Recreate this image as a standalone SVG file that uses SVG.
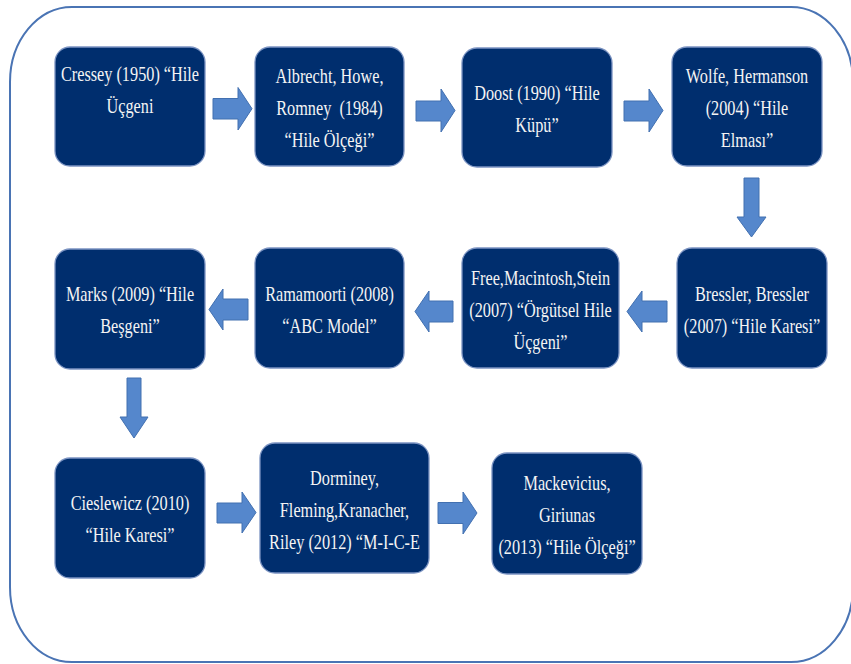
<svg xmlns="http://www.w3.org/2000/svg" width="851" height="664" viewBox="0 0 851 664">
<style>
.frame{fill:#fff;stroke:#4a74b4;stroke-width:2}
.box{fill:#002e6e;stroke:#7b93c2;stroke-width:1.3}
.t{font-family:"Liberation Serif","Times New Roman",serif;font-size:21px;fill:#f4f4f4;text-anchor:middle}
.arr{fill:#5587cc;stroke:#4270b0;stroke-width:1;stroke-linejoin:miter}
</style>
<rect width="851" height="664" fill="#fff"/>
<rect class="frame" x="10" y="7" width="843" height="655" rx="62" ry="75"/>

<g id="connectors">
<polygon class="arr" points="213,98.5 238,98.5 238,87.5 252,108.7 238,130 238,119 213,119"/>
<polygon class="arr" points="416,101 441,101 441,89 455,110.5 441,132 441,121 416,121"/>
<polygon class="arr" points="624,101 649,101 649,89 663,110.5 649,132 649,121 624,121"/>
<polygon class="arr" points="744,178 759,178 759,217 766,217 751.5,237 737,217 744,217"/>
<polygon class="arr" points="667,301 642,301 642,291 627,311.5 642,332 642,322 667,322"/>
<polygon class="arr" points="453,301 429,301 429,291 415,311.5 429,332 429,322 453,322"/>
<polygon class="arr" points="248,299 223,299 223,289 209,309.5 223,330 223,320 248,320"/>
<polygon class="arr" points="127,378 141,378 141,417 148,417 134,438 120,417 127,417"/>
<polygon class="arr" points="217,503 242,503 242,492 256,512.5 242,533 242,523 217,523"/>
<polygon class="arr" points="438,502.5 463,502.5 463,492 477,513 463,534 463,523.5 438,523.5"/>
</g>

<g id="cressey">
<rect class="box" x="55" y="47" width="150" height="119" rx="15"/>
<g transform="matrix(0.775 0 0 1 130 0)"><text class="t"><tspan x="0" y="81">Cressey (1950) “Hile</tspan><tspan x="0" y="113">Üçgeni</tspan></text></g>
</g>
<g id="albrecht">
<rect class="box" x="255" y="47" width="149" height="119" rx="15"/>
<g transform="matrix(0.775 0 0 1 329.5 0)"><text class="t" xml:space="preserve"><tspan x="0" y="83">Albrecht, Howe,</tspan><tspan x="0" y="115">Romney  (1984)</tspan><tspan x="0" y="147">“Hile Ölçeği”</tspan></text></g>
</g>
<g id="doost">
<rect class="box" x="462" y="48" width="150" height="119" rx="15"/>
<g transform="matrix(0.775 0 0 1 537 0)"><text class="t"><tspan x="0" y="100">Doost (1990) “Hile</tspan><tspan x="0" y="132">Küpü”</tspan></text></g>
</g>
<g id="wolfe">
<rect class="box" x="672" y="47" width="150" height="119" rx="15"/>
<g transform="matrix(0.775 0 0 1 747 0)"><text class="t"><tspan x="0" y="83">Wolfe, Hermanson</tspan><tspan x="0" y="115">(2004) “Hile</tspan><tspan x="0" y="147">Elması”</tspan></text></g>
</g>

<g id="marks">
<rect class="box" x="55" y="249" width="150" height="120" rx="15"/>
<g transform="matrix(0.775 0 0 1 130 0)"><text class="t"><tspan x="0" y="301">Marks (2009) “Hile</tspan><tspan x="0" y="333">Beşgeni”</tspan></text></g>
</g>
<g id="ramamoorti">
<rect class="box" x="255" y="248" width="149" height="120" rx="15"/>
<g transform="matrix(0.775 0 0 1 329.5 0)"><text class="t"><tspan x="0" y="301">Ramamoorti (2008)</tspan><tspan x="0" y="333">“ABC Model”</tspan></text></g>
</g>
<g id="free">
<rect class="box" x="462" y="248" width="157" height="120" rx="15"/>
<g transform="matrix(0.775 0 0 1 540.5 0)"><text class="t"><tspan x="0" y="285">Free,Macintosh,Stein</tspan><tspan x="0" y="317">(2007) “Örgütsel Hile</tspan><tspan x="0" y="349">Üçgeni”</tspan></text></g>
</g>
<g id="bressler">
<rect class="box" x="677" y="248" width="150" height="120" rx="15"/>
<g transform="matrix(0.775 0 0 1 752 0)"><text class="t"><tspan x="0" y="301">Bressler, Bressler</tspan><tspan x="0" y="333">(2007) “Hile Karesi”</tspan></text></g>
</g>

<g id="cieslewicz">
<rect class="box" x="55" y="458" width="150" height="120" rx="15"/>
<g transform="matrix(0.775 0 0 1 130 0)"><text class="t"><tspan x="0" y="510">Cieslewicz (2010)</tspan><tspan x="0" y="542">“Hile Karesi”</tspan></text></g>
</g>
<g id="dorminey">
<rect class="box" x="260" y="443" width="169" height="130" rx="15"/>
<g transform="matrix(0.775 0 0 1 344.5 0)"><text class="t"><tspan x="0" y="485">Dorminey,</tspan><tspan x="0" y="517">Fleming,Kranacher,</tspan><tspan x="0" y="549">Riley (2012) “M-I-C-E</tspan></text></g>
</g>
<g id="mackevicius">
<rect class="box" x="492" y="453" width="150" height="121" rx="15"/>
<g transform="matrix(0.775 0 0 1 567 0)"><text class="t"><tspan x="0" y="490">Mackevicius,</tspan><tspan x="0" y="522">Giriunas</tspan><tspan x="0" y="554">(2013) “Hile Ölçeği”</tspan></text></g>
</g>
</svg>
